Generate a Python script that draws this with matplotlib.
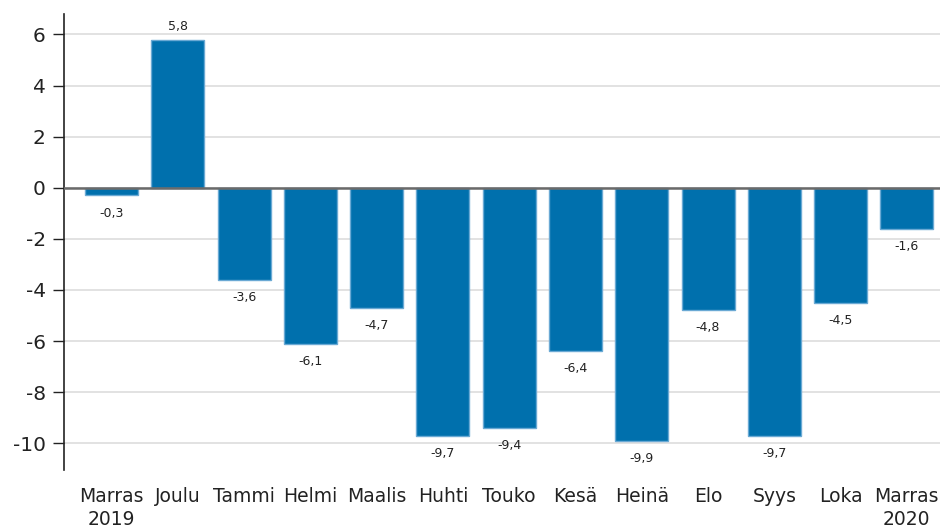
import matplotlib
matplotlib.use("Agg")
import matplotlib.pyplot as plt

categories = ["Marras\n2019", "Joulu", "Tammi", "Helmi", "Maalis", "Huhti", "Touko",
              "Kesä", "Heinä", "Elo", "Syys", "Loka", "Marras\n2020"]
values = [-0.3, 5.8, -3.6, -6.1, -4.7, -9.7, -9.4, -6.4, -9.9, -4.8, -9.7, -4.5, -1.6]
labels = ["-0,3", "5,8", "-3,6", "-6,1", "-4,7", "-9,7", "-9,4", "-6,4", "-9,9", "-4,8", "-9,7", "-4,5", "-1,6"]
yticks = [-10, -8, -6, -4, -2, 0, 2, 4, 6]

plt.rcParams['font.family'] = ['DejaVu Sans']
fig = plt.figure(figsize=(9.4, 5.29), dpi=100)
ax = fig.add_axes([0.068, 0.1115, 0.932, 0.862])

x = list(range(len(categories)))
ax.bar(x, values, width=0.8, color="#0070ad", edgecolor="#6aa9d4", linewidth=1.0, zorder=3)

for xi, v, lab in zip(x, values, labels):
    if v >= 0:
        ax.annotate(lab, (xi, v), xytext=(0, 5), textcoords="offset points",
                    ha="center", va="bottom", fontsize=9, color="#222222")
    else:
        ax.annotate(lab, (xi, v), xytext=(0, -8), textcoords="offset points",
                    ha="center", va="top", fontsize=9, color="#222222")

ax.set_ylim(-11.05, 6.8)
ax.set_xlim(-0.72, 12.5)
ax.set_yticks(yticks)
ax.set_yticklabels([str(t) for t in yticks], fontsize=14.5, color="#222222")
ax.set_xticks(x)
ax.set_xticklabels(categories, fontsize=13.5, color="#222222", linespacing=1.3)
ax.tick_params(axis="x", length=0, pad=12)
ax.tick_params(axis="y", length=8, width=1, color="#222222", pad=5)

ax.yaxis.grid(True, color="#dddddd", linewidth=1.2, zorder=0)
ax.set_axisbelow(True)
ax.axhline(0, color="#6a6a6a", linewidth=1.8, zorder=4)

for s in ["top", "right", "bottom"]:
    ax.spines[s].set_visible(False)
ax.spines["left"].set_color("#222222")
ax.spines["left"].set_linewidth(1.2)

fig.savefig("out.png", dpi=100)
